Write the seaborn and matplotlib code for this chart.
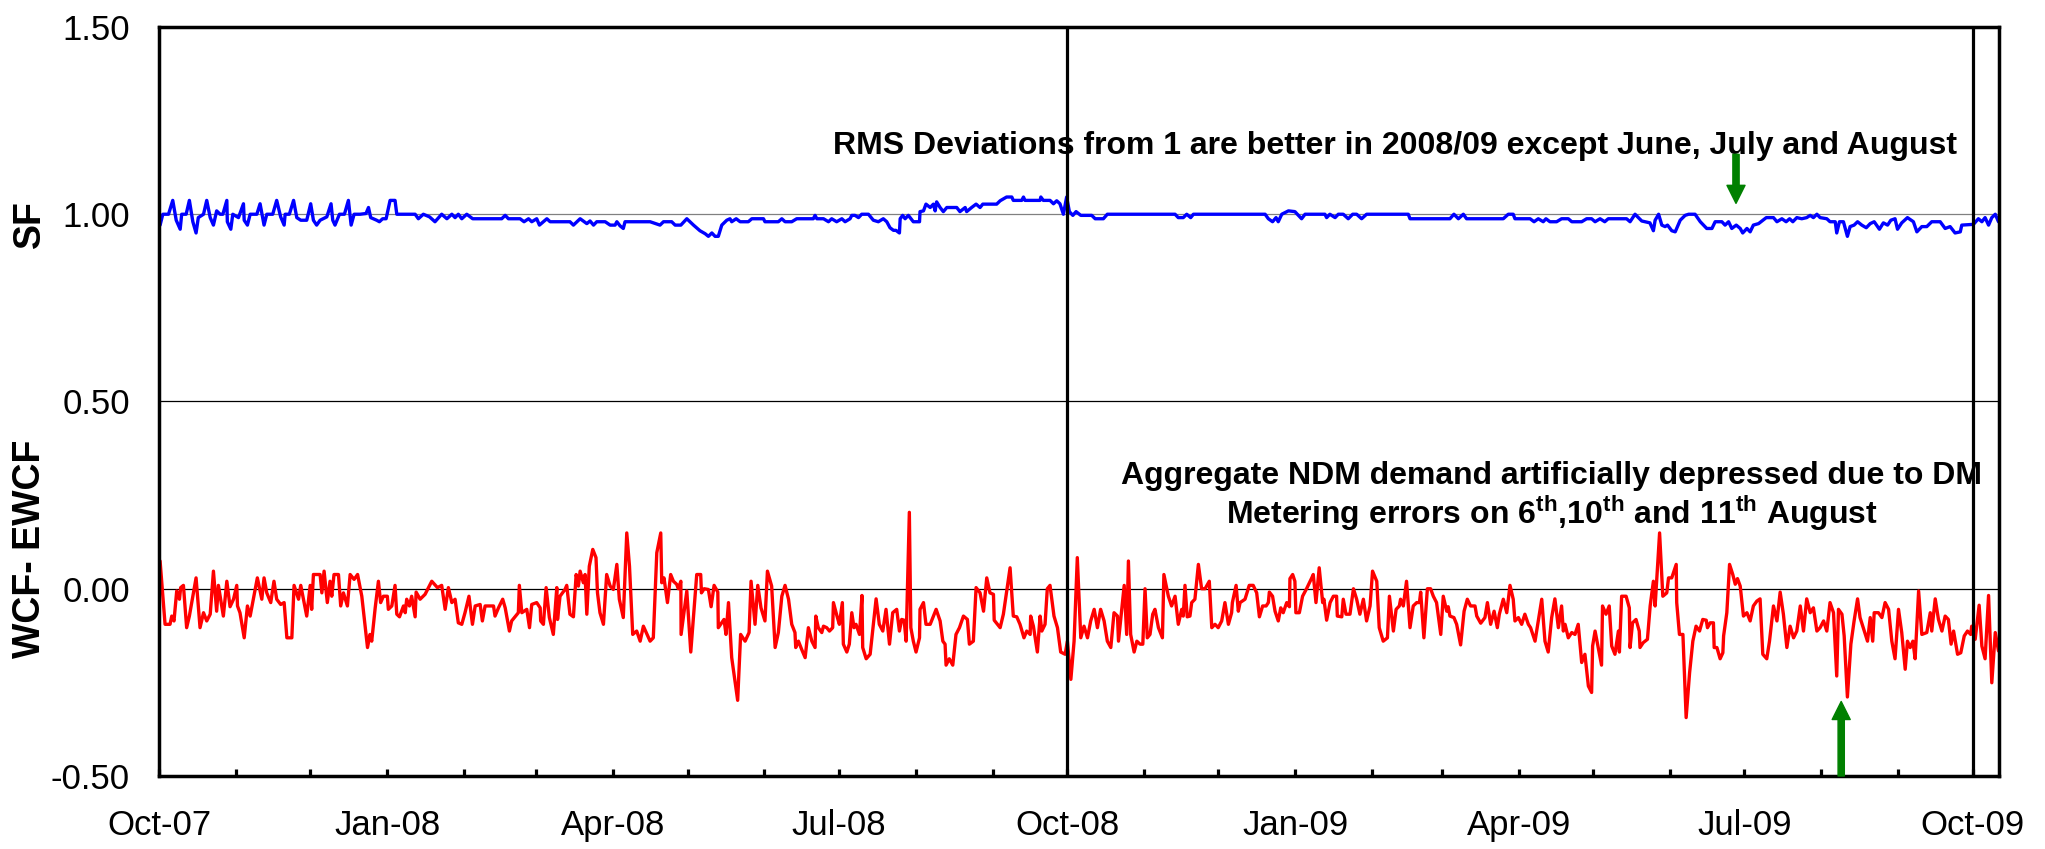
import pandas as pd
import matplotlib
matplotlib.use("Agg")
import matplotlib.pyplot as plt
import matplotlib.dates as mdates
import seaborn as sns

# daily series; x = days after 1 Oct 2007
start = pd.Timestamp("2007-10-01")

sf_day = [0.4, 1.5, 3.8, 5.5, 6.9, 8.5, 9.1, 10.9, 12.2, 13.6, 14.9, 15.8, 17.9, 19.2, 20.6, 21.9,
          23.2, 24.6, 25.7, 27.3, 27.5, 28.9, 29.7, 32.0, 34.0, 34.3, 35.6, 36.7, 39.4, 40.7, 42.3,
          43.4, 45.8, 47.4, 49.0, 50.4, 50.8, 52.5, 54.2, 55.5, 57.1, 59.5, 61.1, 62.2, 63.5, 64.9,
          67.6, 69.3, 70.0, 70.9, 72.7, 74.7, 76.3, 77.4, 78.6, 81.0, 83.4, 84.4, 85.3, 87.7, 88.8,
          90.1, 91.5, 93.1, 95.1, 95.8, 103.2, 104.5, 106.5, 109.0, 111.2, 113.9, 116.0, 118.0,
          119.3, 120.6, 122.0, 124.0, 126.4, 138.1, 139.5, 140.8, 145.5, 147.1, 148.9, 150.2,
          152.2, 153.3, 156.3, 157.6, 165.6, 167.0, 169.7, 172.4, 173.7, 175.1, 176.4, 179.8,
          181.8, 183.8, 184.5, 185.8, 187.1, 187.8, 195.2,
          197.9, 201.9, 203.3, 206.6, 208.0, 210.3, 212.7, 215.4, 218.0, 220.1, 221.4, 222.8,
          224.1, 225.4, 226.8, 228.8, 230.1, 230.8, 232.6, 234.2, 237.5, 238.9, 243.6, 244.2,
          249.6, 251.0, 252.3, 255.0, 257.0, 263.7, 264.4, 265.1, 267.8, 269.8, 271.1, 273.1,
          275.2, 276.5, 278.5, 279.2, 280.5, 281.9, 283.2, 285.9, 287.9, 289.9, 291.9, 293.3,
          294.6, 296.0, 297.0, 298.4, 298.7, 299.7, 300.7, 302.0, 304.0, 306.5, 306.7, 308.1,
          309.1, 310.8, 312.1, 312.8, 313.4, 314.8, 316.1, 317.5, 321.5, 322.8, 324.9, 325.5,
          327.5, 329.3, 330.9, 332.0, 337.6, 339.0, 341.6, 343.7, 344.3, 347.7, 348.4, 349.0,
          355.1, 355.4, 356.4, 359.1, 360.5, 361.8, 363.1, 364.5, 365.8, 366.9, 368.3, 369.6,
          371.5, 375.9, 377.3, 380.6, 382.2,
          399.4, 409.5, 410.8, 412.8, 414.2, 415.8, 416.9, 445.8, 447.1, 448.8, 450.2, 451.1,
          452.5, 455.2, 457.8, 459.2, 460.5, 461.9, 469.9, 470.6, 471.9, 474.0, 475.3, 477.3,
          479.3, 481.1, 482.7, 484.7, 486.7, 503.5, 504.2, 520.3, 521.9, 523.7, 525.7, 527.0,
          541.8, 543.8, 545.8, 546.5, 552.6, 554.2, 555.9, 557.9, 559.0, 560.6, 563.3, 565.3,
          568.0, 569.4, 573.4, 575.4, 577.4, 578.8, 580.8, 582.7, 584.1, 591.5, 592.9, 594.9,
          597.6, 600.9,
          602.3, 603.0, 604.4, 605.7, 607.0, 608.0, 609.7, 611.1, 613.1, 615.1, 616.5, 619.1,
          621.2, 623.8, 625.9, 627.2, 629.9, 631.2, 632.6, 633.9, 635.7, 637.3, 638.3, 640.0,
          641.3, 642.6, 644.7, 647.8, 650.7, 652.1, 654.1, 655.8, 657.2, 658.5, 660.1, 662.1,
          664.1, 665.5, 666.8, 668.2, 669.5, 672.2, 673.5, 675.6, 676.2, 677.3, 678.9, 680.5,
          681.6, 683.2, 684.6, 686.3, 688.1, 689.7, 691.3, 693.4, 695.0, 696.7, 698.0, 699.7,
          700.7, 702.4, 704.7, 707.1, 708.5, 710.5, 712.5, 714.5, 717.9, 719.9, 721.9, 723.9,
          726.0, 726.6, 731.3, 733.3, 734.7, 736.0, 737.4, 738.7, 740.1, 741.4]
sf_val = [0.971, 1.000, 1.000, 1.037, 0.984, 0.960, 1.000, 1.000, 1.037, 0.980, 0.950, 0.991, 1.000,
          1.037, 0.991, 0.971, 1.009, 1.000, 1.000, 1.037, 0.980, 0.960, 1.000, 0.991, 1.028, 0.984,
          0.971, 1.000, 1.000, 1.028, 0.971, 1.000, 1.000, 1.037, 0.993, 0.971, 1.000, 1.000, 1.037,
          0.991, 0.984, 0.984, 1.028, 0.984, 0.971, 0.984, 0.993, 1.028, 0.984, 0.971, 1.000, 1.000,
          1.037, 0.971, 1.000, 1.000, 1.002, 1.018, 0.991, 0.984, 0.980, 0.988, 0.988, 1.037, 1.037,
          1.000, 1.000, 0.988, 1.000, 0.993, 0.980, 1.000, 0.988, 1.000, 0.991, 1.000, 0.988, 1.000,
          0.988, 0.988, 0.997, 0.988, 0.988, 0.980, 0.988, 0.980, 0.988, 0.971, 0.988, 0.980, 0.980,
          0.971, 0.988, 0.975, 0.982, 0.971, 0.980, 0.980, 0.971, 0.971, 0.980, 0.969, 0.962, 0.980,
          0.980,
          0.980, 0.971, 0.980, 0.980, 0.971, 0.971, 0.988, 0.971, 0.956, 0.948, 0.941, 0.950, 0.941,
          0.941, 0.971, 0.984, 0.988, 0.980, 0.988, 0.980, 0.980, 0.988, 0.988, 0.980, 0.980, 0.988,
          0.980, 0.980, 0.988, 0.988, 0.997, 0.988, 0.988, 0.980, 0.988, 0.980, 0.988, 0.980, 0.988,
          0.997, 0.997, 0.991, 1.000, 1.000, 0.984, 0.980, 0.988, 0.980, 0.964, 0.957, 0.957, 0.950,
          0.988, 0.997, 0.988, 0.997, 0.980, 0.980, 1.007, 1.009, 1.027, 1.018, 1.027, 1.009, 1.033,
          1.018, 1.007, 1.018, 1.018, 1.007, 1.018, 1.007, 1.018, 1.027, 1.018, 1.027, 1.027, 1.036,
          1.046, 1.046, 1.037, 1.037, 1.046, 1.037, 1.037, 1.046, 1.037, 1.037, 1.028, 1.036, 1.028,
          1.000, 1.046, 1.007, 0.997, 1.007, 0.997, 0.997, 0.988, 0.988, 1.000,
          1.000, 1.000, 0.991, 0.991, 1.000, 0.991, 1.000, 1.000, 0.988, 0.980, 0.991, 0.980, 1.000,
          1.009, 1.007, 0.997, 0.988, 1.000, 1.000, 0.991, 1.000, 0.991, 1.000, 1.000, 0.988, 1.000,
          1.000, 0.988, 1.000, 1.000, 0.988, 0.988, 1.000, 0.988, 1.000, 0.988, 0.988, 1.000, 1.000,
          0.988, 0.988, 0.980, 0.988, 0.980, 0.988, 0.980, 0.980, 0.988, 0.988, 0.980, 0.980, 0.988,
          0.988, 0.980, 0.988, 0.980, 0.988, 0.988, 0.980, 1.000, 0.982, 0.977,
          0.956, 0.984, 1.000, 0.971, 0.967, 0.971, 0.956, 0.953, 0.984, 0.997, 1.000, 1.000, 0.980,
          0.962, 0.962, 0.980, 0.980, 0.971, 0.980, 0.962, 0.971, 0.962, 0.950, 0.962, 0.953, 0.971,
          0.975, 0.991, 0.991, 0.980, 0.988, 0.980, 0.988, 0.980, 0.991, 0.988, 0.991, 0.997, 0.991,
          1.000, 0.991, 0.988, 0.980, 0.980, 0.950, 0.980, 0.980, 0.941, 0.967, 0.971, 0.980, 0.971,
          0.964, 0.975, 0.980, 0.960, 0.977, 0.971, 0.984, 0.988, 0.960, 0.977, 0.991, 0.980, 0.953,
          0.967, 0.967, 0.980, 0.980, 0.962, 0.967, 0.950, 0.953, 0.971, 0.973, 0.988, 0.980, 0.991,
          0.971, 0.991, 1.000, 0.980]

wcf_day = [0.4, 2.4, 4.4, 5.1, 6.0, 7.1, 8.2, 8.7, 9.8, 11.1, 12.2, 14.9, 16.5, 17.9, 19.2, 20.6,
           21.9, 23.2, 23.9, 25.9, 27.3, 28.6, 30.0, 31.3, 31.6, 32.6, 34.3, 35.6, 36.7, 38.0, 39.6,
           41.4, 42.3, 43.4, 45.0, 46.3, 47.4, 49.0, 50.4, 51.5, 53.5, 54.4, 56.2, 57.1, 59.5, 60.9,
           61.5, 62.2, 64.9, 65.6, 66.5, 67.8, 68.9, 69.6, 70.5, 72.3, 73.2, 74.3, 75.9, 77.0, 78.6,
           80.0, 81.7, 84.0, 85.0, 85.7, 87.1, 88.4, 89.3, 90.4, 92.0, 92.4, 93.8, 95.1, 95.8, 96.9,
           98.5, 99.2, 99.8, 100.9, 101.8, 103.2, 103.6, 105.2, 107.2, 109.9, 112.2, 113.9, 115.3,
           116.6, 118.0, 119.3, 120.6, 122.0, 123.3, 124.9, 126.3, 127.4, 129.4, 130.3, 131.4,
           134.8, 135.4, 136.8, 138.5, 139.5, 141.2, 142.1, 144.8, 145.2, 146.2, 148.2, 149.3,
           150.2, 152.2, 153.6, 153.8, 154.9, 156.0, 157.3, 158.9, 160.3, 160.6, 161.6, 163.6,
           164.3, 165.6, 167.0, 168.1, 169.0, 169.7, 171.0, 171.7, 172.4, 173.4, 174.8, 176.1,
           176.7, 177.7, 179.1, 180.4, 181.8, 183.1, 184.5, 185.5, 187.1, 188.5, 189.6, 190.9,
           192.5, 193.9, 195.2,
           197.9, 199.2, 200.6, 202.2, 202.6, 203.5, 204.9, 206.2, 207.3, 208.6, 209.3, 210.3,
           210.4, 212.7, 214.3, 216.7, 218.3, 218.6, 219.7, 221.4, 222.5, 223.7, 225.2, 225.4,
           227.7, 228.5, 229.5, 230.8, 233.2, 234.4, 236.2, 237.8, 238.6, 240.2, 241.3, 242.6,
           244.2, 245.2, 246.9, 248.3, 249.6, 251.0, 252.3, 253.7, 255.0, 256.3, 256.6, 257.7,
           259.0, 260.4, 261.7, 263.1, 264.4, 264.7, 265.7, 267.1, 267.8, 269.1, 270.2, 271.5,
           271.8, 273.4, 274.2, 275.4, 275.8, 277.2, 278.2, 279.2, 280.1, 280.9, 282.3, 283.3,
           283.6, 285.0, 286.6, 289.0, 290.3, 291.7, 293.0, 294.4, 295.7, 297.3, 298.4, 299.3,
           300.3, 301.1, 302.4, 303.0, 304.0, 305.1, 306.5, 306.7, 308.1, 309.1, 310.8, 313.2,
           314.8, 315.9, 316.8, 317.2, 318.5, 319.9, 321.2, 322.6, 324.2, 325.8, 326.6, 328.2,
           329.3, 330.9, 332.3, 333.6, 334.9, 336.3, 336.6, 339.0, 340.3, 343.0, 344.3, 345.7,
           347.0, 348.6, 349.7, 351.1, 351.3, 352.4, 354.0, 355.1, 355.8, 357.1, 358.0, 359.1,
           360.7, 362.1, 363.4, 365.2, 366.1, 367.5, 368.8, 370.1, 371.5, 372.8, 374.2, 375.5,
           376.9, 378.2, 379.5, 380.9, 382.2, 383.6, 384.9, 386.3, 386.7, 389.0, 390.0, 390.7,
           391.6, 393.0, 394.1, 395.4, 396.5, 397.4, 398.3,
           399.4, 400.5, 401.4, 402.8, 404.4, 405.0, 406.8, 408.1, 409.5, 410.8, 412.2, 412.8,
           413.5, 414.4, 415.5, 416.2, 417.5, 418.9, 420.2, 421.6, 423.3, 424.3, 425.6, 426.9,
           428.3, 429.6, 431.0, 432.3, 432.6, 434.1, 435.0, 435.7, 437.7, 439.4, 441.0, 442.4,
           443.5, 444.8, 446.2, 447.1, 447.5, 448.8, 449.8, 451.1, 452.1, 453.1, 454.5, 455.6,
           455.8, 456.9, 457.8, 458.2, 459.6, 460.9, 462.5, 464.6, 465.2, 466.3, 467.6, 469.0,
           469.5, 470.6, 472.0, 473.3, 474.6, 474.9, 476.7, 477.3, 478.4, 480.0, 481.4, 482.7,
           484.0, 485.4, 486.7, 488.1, 489.1, 490.8, 491.8, 493.4, 495.1, 495.9, 497.5, 498.6,
           499.9, 500.4, 501.5, 502.8, 504.2, 505.5, 506.9, 508.0, 508.5, 509.8, 511.2, 512.5,
           513.6, 514.9, 516.6, 517.6, 519.0, 519.6, 520.3, 521.9, 523.0, 524.6, 526.0, 527.3,
           528.6, 530.4, 531.1, 532.7, 534.4, 535.4, 536.7, 538.1, 539.4, 540.2, 541.8, 543.2,
           544.5, 545.8, 546.5, 547.9, 549.2, 550.5, 551.9, 552.8, 554.6, 557.3, 558.6, 559.9,
           561.3, 562.6, 564.0, 565.3, 566.0, 566.7, 568.0, 569.4, 570.7, 572.0, 573.4, 574.7,
           576.1, 577.4, 577.8, 578.8, 581.4, 581.8, 583.2, 584.5, 585.5, 586.8, 588.2, 588.6,
           589.5, 591.3, 592.6, 592.9, 593.9, 595.3, 596.6, 596.9, 598.2, 599.9,
           601.0, 602.3, 603.0, 604.8, 606.1, 607.7, 608.4, 609.7, 611.5, 611.7, 612.8, 614.2,
           615.5, 616.9, 618.2, 619.5, 620.9, 622.2, 623.6, 624.1, 625.2, 626.5, 626.8, 627.9,
           629.2, 630.3, 630.6, 631.9, 633.0, 634.3, 635.3, 636.2, 637.3, 638.6, 640.0, 641.3,
           642.6, 644.0, 645.3, 646.4, 648.0, 649.1, 650.7, 652.1, 653.4, 654.7, 656.1, 657.4,
           658.8, 660.1, 661.5, 662.8, 664.1, 665.5, 666.8, 668.2, 669.5, 670.9, 672.2, 673.5,
           674.9, 676.2, 676.9, 678.3, 679.2, 680.5, 681.9, 683.2, 684.6, 685.6, 687.3, 688.6,
           689.7, 690.7, 691.3, 693.0, 694.4, 695.7, 697.1, 698.4, 699.7, 701.1, 702.4, 703.8,
           704.7, 705.8, 706.9, 707.8, 709.2, 710.5, 712.5, 713.9, 714.5, 715.9, 717.2, 718.6,
           719.9, 721.2, 722.3, 723.3, 724.9, 726.2, 727.6, 728.9, 730.2, 730.6, 732.0, 733.6,
           734.7, 736.0, 737.4, 738.7, 740.1, 741.4]
wcf_val = [0.074, -0.095, -0.095, -0.073, -0.086, -0.006, -0.028, 0.003, 0.009, -0.104, -0.073,
           0.029, -0.104, -0.064, -0.086, -0.068, 0.047, -0.060, 0.009, -0.073, 0.020, -0.048,
           -0.028, 0.009, -0.046, -0.064, -0.131, -0.046, -0.073, -0.027, 0.029, -0.028, 0.029,
           -0.011, -0.037, 0.020, -0.028, -0.042, -0.037, -0.131, -0.131, 0.009, -0.028, 0.009,
           -0.073, 0.009, -0.055, 0.038, 0.038, -0.011, 0.047, -0.037, 0.020, -0.020, 0.038, 0.038,
           -0.046, -0.011, -0.046, 0.038, 0.025, 0.038, -0.020, -0.157, -0.122, -0.140, -0.051,
           0.020, -0.037, -0.020, -0.020, -0.055, -0.046, 0.009, -0.068, -0.075, -0.046, -0.064,
           -0.028, -0.046, -0.020, -0.075, -0.009, -0.028, -0.015, 0.020, 0.003, 0.009, -0.055,
           0.003, -0.037, -0.028, -0.091, -0.095, -0.064, -0.020, -0.095, -0.046, -0.042, -0.086,
           -0.046, -0.046, -0.073, -0.051, -0.028, -0.051, -0.113, -0.086, -0.064, 0.009, -0.064,
           -0.055, -0.104, -0.042, -0.037, -0.051, -0.086, -0.095, 0.003, -0.077, -0.122, 0.003,
           -0.082, -0.020, -0.002, 0.009, -0.068, -0.075, 0.038, 0.007, 0.047, 0.016, 0.038,
           -0.068, 0.060, 0.105, 0.083, -0.011, -0.064, -0.095, 0.038, 0.007, -0.002, 0.065,
           -0.028, -0.077, 0.149, 0.060, -0.122, -0.113, -0.140, -0.100,
           -0.140, -0.131, 0.096, 0.149, 0.016, 0.029, -0.037, 0.038, 0.020, 0.012, 0.000, 0.020,
           -0.122, -0.006, -0.169, 0.038, 0.038, -0.011, 0.000, -0.002, -0.048, 0.009, -0.009,
           -0.104, -0.082, -0.122, -0.037, -0.184, -0.298, -0.122, -0.140, -0.117, 0.020, -0.095,
           0.009, -0.051, -0.086, 0.047, 0.007, -0.157, -0.117, -0.020, 0.009, -0.028, -0.095,
           -0.117, -0.157, -0.140, -0.162, -0.184, -0.104, -0.140, -0.157, -0.073, -0.104, -0.117,
           -0.100, -0.104, -0.113, -0.104, -0.037, -0.077, -0.095, -0.037, -0.148, -0.169, -0.148,
           -0.064, -0.104, -0.095, -0.122, -0.018, -0.157, -0.187, -0.175, -0.027, -0.095, -0.113,
           -0.055, -0.148, -0.064, -0.055, -0.113, -0.082, -0.084, -0.140, 0.204, -0.104, -0.140,
           -0.169, -0.131, -0.055, -0.037, -0.095, -0.095, -0.055, -0.086, -0.140, -0.148, -0.204,
           -0.187, -0.204, -0.122, -0.104, -0.073, -0.082, -0.148, -0.140, 0.003, -0.011, -0.060,
           0.029, -0.011, -0.015, -0.084, -0.104, -0.068, 0.056, -0.073, -0.075, -0.095, -0.131,
           -0.113, -0.122, -0.073, -0.100, -0.169, -0.073, -0.113, -0.095, 0.000, 0.009, -0.073,
           -0.104, -0.169, -0.175, -0.140, -0.242, -0.140, 0.083, -0.131, -0.100, -0.131, -0.086,
           -0.055, -0.104, -0.055, -0.086, -0.140, -0.157, -0.064, -0.073, -0.140, 0.009, -0.122,
           0.074, -0.122, -0.169, -0.140, -0.148, -0.148, 0.000, -0.131,
           -0.122, -0.068, -0.055, -0.104, -0.131, 0.038, -0.020, -0.046, -0.020, -0.095, -0.055,
           -0.073, 0.009, -0.075, -0.073, -0.037, -0.028, 0.065, 0.000, 0.000, 0.020, -0.104,
           -0.095, -0.104, -0.086, -0.037, -0.095, -0.064, -0.037, 0.009, -0.060, -0.037, -0.028,
           0.009, 0.009, -0.011, -0.075, -0.046, -0.046, -0.037, -0.009, -0.020, -0.060, -0.086,
           -0.051, -0.064, -0.037, -0.048, 0.027, 0.038, 0.020, -0.064, -0.064, -0.020, 0.000,
           0.029, 0.038, -0.037, 0.056, -0.037, -0.028, -0.084, -0.037, -0.020, -0.020, -0.073,
           -0.075, -0.028, -0.068, -0.068, 0.000, -0.028, -0.068, -0.028, -0.086, -0.046, 0.047,
           0.020, -0.104, -0.140, -0.131, -0.020, -0.113, -0.055, -0.046, -0.028, -0.046, 0.020,
           -0.104, -0.046, -0.037, -0.037, -0.009, -0.131, 0.000, 0.000, -0.020, -0.037, -0.122,
           -0.020, -0.060, -0.048, -0.073, -0.077, -0.095, -0.150, -0.060, -0.028, -0.046, -0.046,
           -0.073, -0.092, -0.077, -0.037, -0.095, -0.060, -0.104, -0.068, -0.028, -0.064, 0.009,
           -0.028, -0.086, -0.077, -0.095, -0.068, -0.095, -0.104, -0.140, -0.028, -0.140, -0.169,
           -0.077, -0.027, -0.104, -0.046, -0.113, -0.095, -0.131, -0.117, -0.122, -0.095, -0.197,
           -0.175, -0.260, -0.277, -0.153, -0.113, -0.204, -0.046, -0.068, -0.046, -0.153, -0.175,
           -0.113, -0.169, -0.020, -0.020, -0.051, -0.157, -0.091, -0.082, -0.113, -0.157, -0.144,
           -0.135,
           -0.046, 0.020, -0.046, 0.149, -0.020, -0.011, 0.029, 0.029, 0.065, -0.037, -0.122,
           -0.122, -0.344, -0.224, -0.140, -0.100, -0.113, -0.082, -0.084, -0.104, -0.091, -0.091,
           -0.157, -0.157, -0.187, -0.171, -0.126, -0.064, 0.065, 0.038, 0.012, 0.027, 0.007,
           -0.073, -0.064, -0.086, -0.046, -0.033, -0.027, -0.175, -0.187, -0.140, -0.046, -0.086,
           -0.009, -0.068, -0.157, -0.100, -0.131, -0.113, -0.046, -0.113, -0.027, -0.064, -0.051,
           -0.113, -0.104, -0.086, -0.113, -0.037, -0.064, -0.233, -0.055, -0.068, -0.126, -0.289,
           -0.148, -0.086, -0.027, -0.077, -0.113, -0.140, -0.077, -0.140, -0.064, -0.064, -0.077,
           -0.037, -0.055, -0.140, -0.187, -0.055, -0.117, -0.215, -0.140, -0.157, -0.140, -0.187,
           -0.006, -0.122, -0.117, -0.064, -0.113, -0.027, -0.082, -0.113, -0.073, -0.082, -0.148,
           -0.113, -0.175, -0.171, -0.126, -0.113, -0.122, -0.100, -0.135, -0.044, -0.153, -0.187,
           -0.018, -0.251, -0.117, -0.166]

year_starts = ["2008-10-01", "2009-10-01"]
note_top = "RMS Deviations from 1 are better in 2008/09 except June, July and August"
note_low1 = "Aggregate NDM demand artificially depressed due to DM"
note_low2 = ("Metering errors on 6$^{\\mathbf{th}}$,10$^{\\mathbf{th}}$ "
             "and 11$^{\\mathbf{th}}$ August")

sf = pd.DataFrame({"date": start + pd.to_timedelta(sf_day, unit="D"), "value": sf_val})
wcf = pd.DataFrame({"date": start + pd.to_timedelta(wcf_day, unit="D"), "value": wcf_val})

sns.set_style("white")
plt.rcParams["font.family"] = ["Liberation Sans", "DejaVu Sans"]
plt.rcParams["mathtext.fontset"] = "custom"
plt.rcParams["mathtext.bf"] = "Liberation Sans:bold"
plt.rcParams["mathtext.rm"] = "Liberation Sans"
for key in ["text.color", "axes.labelcolor", "xtick.color", "ytick.color"]:
    plt.rcParams[key] = "black"

fig = plt.figure(figsize=(20.45, 8.49), dpi=100)
ax = fig.add_axes([0.0778, 0.086, 0.8997, 0.8822])

for yv, col in [(1.0, "#808080"), (0.5, "black"), (0.0, "black")]:
    ax.axhline(yv, color=col, lw=0.9, zorder=1)
for d in year_starts:
    ax.axvline(pd.Timestamp(d), color="black", lw=2.3, zorder=3)

sns.lineplot(data=sf, x="date", y="value", ax=ax, color="#0000FF", lw=2.4,
             estimator=None, sort=False, zorder=2)
sns.lineplot(data=wcf, x="date", y="value", ax=ax, color="#FF0000", lw=2.4,
             estimator=None, sort=False, zorder=2)

ax.set_xlim(start, start + pd.Timedelta(days=741.6))
ax.set_ylim(-0.5, 1.5)
ax.set_yticks([-0.5, 0.0, 0.5, 1.0, 1.5])
ax.yaxis.set_major_formatter(plt.FormatStrFormatter("%.2f"))
ax.xaxis.set_major_locator(mdates.MonthLocator(bymonth=[1, 4, 7, 10]))
ax.xaxis.set_minor_locator(mdates.MonthLocator())
ax.xaxis.set_major_formatter(mdates.DateFormatter("%b-%y"))
ax.tick_params(axis="x", which="both", direction="in", length=5, width=2.3, color="black",
               bottom=True, top=False, labelsize=25, pad=24)
ax.tick_params(axis="y", length=0, labelsize=25, pad=21)
ax.set_xlabel("")
ax.set_ylabel("")
for s in ax.spines.values():
    s.set_visible(True)
    s.set_color("black")
    s.set_linewidth(2.5)

fig.text(0.0147, 0.708, "SF", rotation=90, ha="center", va="bottom",
         fontsize=27, fontweight="bold")
fig.text(0.0147, 0.225, "WCF- EWCF", rotation=90, ha="center", va="bottom",
         fontsize=27, fontweight="bold")

ax.text(0.6717, 0.841, note_top, transform=ax.transAxes, ha="center", va="center",
        fontsize=23, fontweight="bold")
ax.text(0.757, 0.4005, note_low1, transform=ax.transAxes, ha="center", va="center",
        fontsize=23, fontweight="bold")
ax.text(0.757, 0.351, note_low2, transform=ax.transAxes, ha="center", va="center",
        fontsize=23, fontweight="bold")

arrow = dict(arrowstyle="simple,head_length=1.3,head_width=1.3,tail_width=0.45",
             color="#008000", mutation_scale=10, shrinkA=0, shrinkB=0)
ax.annotate("", xy=(start + pd.Timedelta(days=635.6), 1.029),
            xytext=(start + pd.Timedelta(days=635.6), 1.16), arrowprops=arrow)
ax.annotate("", xy=(start + pd.Timedelta(days=678), -0.301),
            xytext=(start + pd.Timedelta(days=678), -0.5), arrowprops=arrow,
            annotation_clip=False)

fig.savefig("out.png", dpi=100)
